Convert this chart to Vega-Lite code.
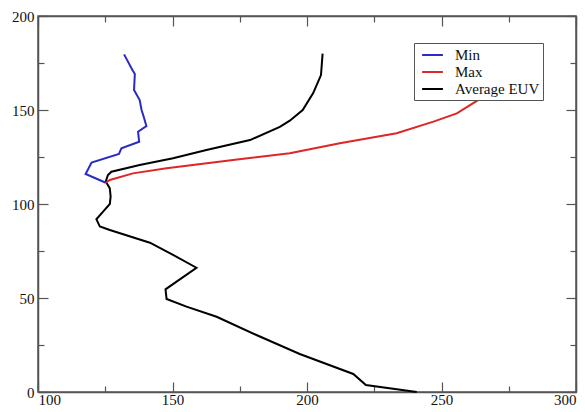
{
  "$schema": "https://vega.github.io/schema/vega-lite/v6.json",
  "width": 538,
  "height": 376,
  "autosize": {"type": "none"},
  "padding": {"left": 38, "top": 16, "right": 9, "bottom": 20},
  "background": "white",
  "config": {
    "view": {"stroke": "#555555", "strokeWidth": 1.5},
    "font": "Liberation Serif",
    "axis": {
      "grid": false,
      "title": null,
      "domainColor": "#555555",
      "domainWidth": 1.5,
      "tickColor": "#555555",
      "tickWidth": 1.2,
      "labelFont": "Liberation Serif",
      "labelFontSize": 15,
      "labelColor": "#111111"
    }
  },
  "data": {
    "values": [
      {"series": "Average EUV", "temp": 240.8, "alt": 0},
      {"series": "Average EUV", "temp": 221.9, "alt": 3.7},
      {"series": "Average EUV", "temp": 217.2, "alt": 9.6},
      {"series": "Average EUV", "temp": 197.3, "alt": 20.2},
      {"series": "Average EUV", "temp": 181.2, "alt": 30.3},
      {"series": "Average EUV", "temp": 166.4, "alt": 40},
      {"series": "Average EUV", "temp": 155.2, "alt": 45.4},
      {"series": "Average EUV", "temp": 147.8, "alt": 49.5},
      {"series": "Average EUV", "temp": 147.4, "alt": 54.6},
      {"series": "Average EUV", "temp": 158.9, "alt": 66.1},
      {"series": "Average EUV", "temp": 150.2, "alt": 72.9},
      {"series": "Average EUV", "temp": 141.6, "alt": 79.4},
      {"series": "Average EUV", "temp": 126.7, "alt": 86.2},
      {"series": "Average EUV", "temp": 123.0, "alt": 88},
      {"series": "Average EUV", "temp": 121.7, "alt": 91.9},
      {"series": "Average EUV", "temp": 124.2, "alt": 95.9},
      {"series": "Average EUV", "temp": 126.7, "alt": 100},
      {"series": "Average EUV", "temp": 127.0, "alt": 104},
      {"series": "Average EUV", "temp": 126.7, "alt": 108.3},
      {"series": "Average EUV", "temp": 125.2, "alt": 112},
      {"series": "Average EUV", "temp": 126.0, "alt": 115.4},
      {"series": "Average EUV", "temp": 127.3, "alt": 117.2},
      {"series": "Average EUV", "temp": 137.8, "alt": 120.7},
      {"series": "Average EUV", "temp": 150.2, "alt": 124.3},
      {"series": "Average EUV", "temp": 162.6, "alt": 128.7},
      {"series": "Average EUV", "temp": 178.8, "alt": 134},
      {"series": "Average EUV", "temp": 189.9, "alt": 141},
      {"series": "Average EUV", "temp": 193.6, "alt": 144.3},
      {"series": "Average EUV", "temp": 198.4, "alt": 150},
      {"series": "Average EUV", "temp": 202.3, "alt": 159},
      {"series": "Average EUV", "temp": 205.2, "alt": 168.6},
      {"series": "Average EUV", "temp": 205.8, "alt": 180},
      {"series": "Max", "temp": 125.2, "alt": 111.3},
      {"series": "Max", "temp": 126.7, "alt": 112.8},
      {"series": "Max", "temp": 135.3, "alt": 116.3},
      {"series": "Max", "temp": 147.8, "alt": 119},
      {"series": "Max", "temp": 172.5, "alt": 123.4},
      {"series": "Max", "temp": 193.6, "alt": 127},
      {"series": "Max", "temp": 212.2, "alt": 132.3},
      {"series": "Max", "temp": 233.3, "alt": 137.6},
      {"series": "Max", "temp": 247.0, "alt": 143.8},
      {"series": "Max", "temp": 255.7, "alt": 148.2},
      {"series": "Max", "temp": 264.3, "alt": 155.9},
      {"series": "Max", "temp": 270.0, "alt": 165},
      {"series": "Max", "temp": 273.0, "alt": 178},
      {"series": "Min", "temp": 125.2, "alt": 111.3},
      {"series": "Min", "temp": 117.7, "alt": 116},
      {"series": "Min", "temp": 119.9, "alt": 122},
      {"series": "Min", "temp": 130.1, "alt": 126.6},
      {"series": "Min", "temp": 131.0, "alt": 129.6},
      {"series": "Min", "temp": 137.6, "alt": 133.1},
      {"series": "Min", "temp": 137.2, "alt": 138.5},
      {"series": "Min", "temp": 140.3, "alt": 141.5},
      {"series": "Min", "temp": 139.1, "alt": 147.3},
      {"series": "Min", "temp": 138.5, "alt": 150},
      {"series": "Min", "temp": 137.8, "alt": 155.3},
      {"series": "Min", "temp": 135.7, "alt": 160.6},
      {"series": "Min", "temp": 136.0, "alt": 169.1},
      {"series": "Min", "temp": 135.1, "alt": 171.3},
      {"series": "Min", "temp": 132.0, "alt": 179.6}
    ]
  },
  "layer": [
    {
      "mark": {"type": "line", "opacity": 0},
      "encoding": {
        "x": {
          "field": "temp", "type": "quantitative",
          "scale": {"domain": [100, 300], "nice": false, "zero": false},
          "axis": {
            "orient": "top",
            "values": [100, 125, 150, 175, 200, 225, 250, 275, 300],
            "labels": false,
            "tickSize": {"condition": {"test": "datum.value % 50 === 0", "value": -10}, "value": -6}
          }
        },
        "y": {
          "field": "alt", "type": "quantitative",
          "scale": {"domain": [0, 200], "nice": false, "zero": false},
          "axis": {
            "orient": "right",
            "values": [0, 25, 50, 75, 100, 125, 150, 175, 200],
            "labels": false,
            "tickSize": {"condition": {"test": "datum.value % 50 === 0", "value": -10}, "value": -6}
          }
        },
        "detail": {"field": "series"},
        "order": {"field": "alt", "type": "quantitative"}
      }
    },
    {
      "mark": {"type": "line", "strokeWidth": 2},
      "encoding": {
        "x": {
          "field": "temp", "type": "quantitative",
          "scale": {"domain": [100, 300], "nice": false, "zero": false},
          "axis": {
            "orient": "bottom",
            "values": [100, 125, 150, 175, 200, 225, 250, 275, 300],
            "labelExpr": "datum.value % 50 === 0 ? datum.label : ''",
            "labelPadding": 10,
            "tickSize": {"condition": {"test": "datum.value % 50 === 0", "value": -10}, "value": -6}
          }
        },
        "y": {
          "field": "alt", "type": "quantitative",
          "scale": {"domain": [0, 200], "nice": false, "zero": false},
          "axis": {
            "orient": "left",
            "values": [0, 25, 50, 75, 100, 125, 150, 175, 200],
            "labelExpr": "datum.value % 50 === 0 ? datum.label : ''",
            "labelPadding": 14,
            "tickSize": {"condition": {"test": "datum.value % 50 === 0", "value": -10}, "value": -6}
          }
        },
        "color": {
          "field": "series", "type": "nominal",
          "scale": {"domain": ["Min", "Max", "Average EUV"], "range": ["#2b2bc4", "#dd2626", "#000000"]},
          "legend": {
            "orient": "none",
            "legendX": 376,
            "legendY": 27,
            "title": null,
            "strokeColor": "#555555",
            "fillColor": "white",
            "padding": 3,
            "symbolType": "M-1.3,0H1.3",
            "symbolSize": 256,
            "symbolStrokeWidth": 2,
            "symbolOffset": 6.5,
            "labelFont": "Liberation Serif",
            "labelFontSize": 15,
            "labelColor": "#111111",
            "labelOffset": 13.5,
            "rowPadding": 0
          }
        },
        "order": {"field": "alt", "type": "quantitative"}
      }
    }
  ],
  "resolve": {"axis": {"x": "independent", "y": "independent"}}
}
